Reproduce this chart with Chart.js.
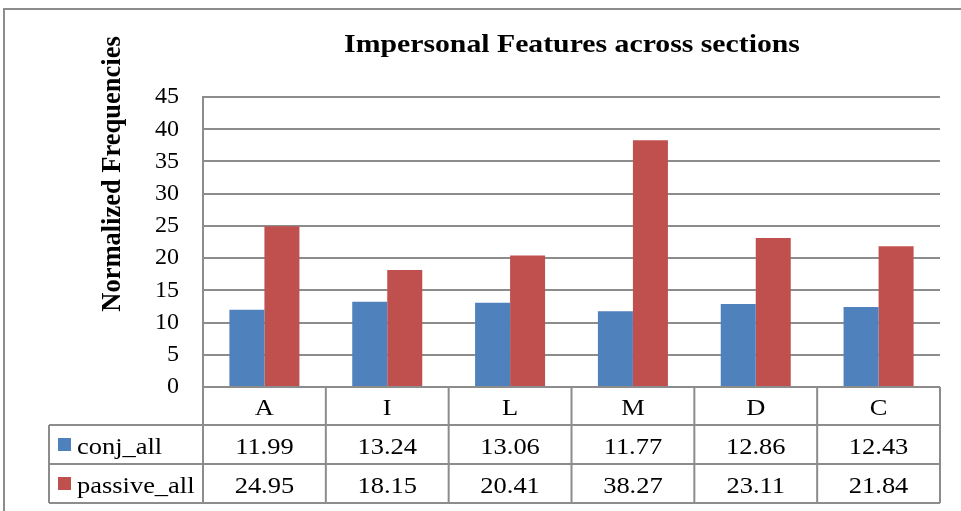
<!DOCTYPE html>
<html>
<head>
<meta charset="utf-8">
<script src="https://cdn.jsdelivr.net/npm/chart.js@4"></script>
<style>
  html, body { margin: 0; padding: 0; background: #fff; }
  #wrap { width: 961px; height: 511px; position: relative; }
</style>
</head>
<body>
<div id="wrap"><canvas id="chart" width="961" height="511"></canvas></div>
<script>
const categories = ['A', 'I', 'L', 'M', 'D', 'C'];
const conjAll = [11.99, 13.24, 13.06, 11.77, 12.86, 12.43];
const passiveAll = [24.95, 18.15, 20.41, 38.27, 23.11, 21.84];
const seriesNames = ['conj_all', 'passive_all'];
const seriesColors = ['#4F81BD', '#C0504D'];

const FONT = '"Liberation Serif", "Times New Roman", serif';
const LINE = '#8c8c8c';

// the source picture's text is a little wider than it is tall, so stretch it
function drawText(ctx, text, x, y, font, sx, align) {
    ctx.save();
    ctx.font = font;
    ctx.textAlign = align || 'center';
    ctx.textBaseline = 'alphabetic';
    ctx.translate(x, y);
    ctx.scale(sx, 1);
    ctx.fillText(text, 0, 0);
    ctx.restore();
}

// draws title, axis title, outer frame and the data table under the plot
const tablePlugin = {
    id: 'dataTable',
    afterDraw(chart) {
        const ctx = chart.ctx;
        const area = chart.chartArea;
        const x = chart.scales.x;
        const n = categories.length;
        const colW = (area.right - area.left) / n;
        const rows = [area.bottom, 425, 464, 503];
        const legendLeft = 49;
        const cellFont = '23px ' + FONT;

        ctx.save();
        // outer frame
        ctx.strokeStyle = '#8c8c8c';
        ctx.lineWidth = 2;
        ctx.strokeRect(4, 9, 980, 520);

        ctx.fillStyle = '#000';
        drawText(ctx, 'Impersonal Features across sections', 572, 52, 'bold 25px ' + FONT, 1.19);

        // y axis title
        ctx.save();
        ctx.translate(120, 174);
        ctx.rotate(-Math.PI / 2);
        ctx.font = 'bold 26.5px ' + FONT;
        ctx.textAlign = 'center';
        ctx.textBaseline = 'alphabetic';
        ctx.fillText('Normalized Frequencies', 0, 0);
        ctx.restore();

        // table lines
        ctx.strokeStyle = LINE;
        ctx.lineWidth = 2;
        ctx.beginPath();
        ctx.moveTo(area.left, rows[0]); ctx.lineTo(area.right, rows[0]);
        for (let r = 1; r < rows.length; r++) {
            ctx.moveTo(legendLeft, rows[r]); ctx.lineTo(area.right, rows[r]);
        }
        for (let i = 0; i <= n; i++) {
            const lx = area.left + i * colW;
            ctx.moveTo(lx, rows[0]); ctx.lineTo(lx, rows[3]);
        }
        ctx.moveTo(legendLeft, rows[1]); ctx.lineTo(legendLeft, rows[3]);
        ctx.stroke();

        // table text
        ctx.fillStyle = '#000';
        categories.forEach((c, i) => {
            const cx = x.getPixelForValue(i);
            drawText(ctx, c, cx, rows[1] - 10, cellFont, 1.15);
            drawText(ctx, conjAll[i].toFixed(2), cx, rows[2] - 10, cellFont, 1.15);
            drawText(ctx, passiveAll[i].toFixed(2), cx, rows[3] - 10, cellFont, 1.15);
        });

        // legend keys
        seriesNames.forEach((name, k) => {
            const top = rows[k + 1];
            ctx.fillStyle = seriesColors[k];
            ctx.fillRect(58, top + 13, 13, 13);
            ctx.fillStyle = '#000';
            drawText(ctx, name, 77, rows[k + 2] - 10, cellFont, 1.15, 'left');
        });
        ctx.restore();
    }
};

new Chart(document.getElementById('chart'), {
    type: 'bar',
    data: {
        labels: categories,
        datasets: [
            {
                label: seriesNames[0],
                data: conjAll,
                backgroundColor: seriesColors[0],
                categoryPercentage: 0.57,
                barPercentage: 1.0
            },
            {
                label: seriesNames[1],
                data: passiveAll,
                backgroundColor: seriesColors[1],
                categoryPercentage: 0.57,
                barPercentage: 1.0
            }
        ]
    },
    options: {
        responsive: false,
        animation: false,
        layout: {
            padding: { left: 143, right: 21, top: 97, bottom: 124 }
        },
        plugins: {
            legend: { display: false },
            title: { display: false },
            tooltip: { enabled: false }
        },
        scales: {
            x: {
                ticks: { display: false },
                grid: { display: false },
                border: { display: false },
                afterFit(scale) { scale.height = 0; }
            },
            y: {
                min: 0,
                max: 45,
                ticks: {
                    stepSize: 5,
                    color: '#000',
                    padding: 24,
                    font: { family: FONT, size: 24 }
                },
                grid: {
                    color: LINE,
                    lineWidth: 2,
                    drawTicks: false
                },
                border: { color: LINE, width: 2 },
                afterFit(scale) { scale.width = 60; }
            }
        }
    },
    plugins: [tablePlugin]
});
</script>
</body>
</html>
